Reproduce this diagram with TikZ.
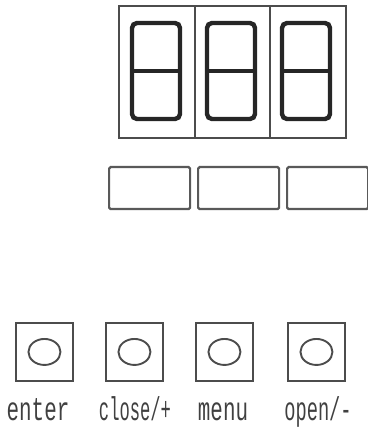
\documentclass[tikz,border=0pt]{standalone}
\usepackage{fontspec}
\newfontfamily\lblfont{Liberation Mono}
\tikzset{
  ln/.style={draw=black!70, line width=1.9pt},
  cell/.style={ln, minimum width=76pt, minimum height=132pt, inner sep=0pt, anchor=north west},
  seg/.style={draw=black!85, line width=4.4pt, rounded corners=5pt},
  slot/.style={draw=black!65, line width=2.2pt, rounded corners=1.5pt, minimum width=81pt, minimum height=42pt, inner sep=0pt, anchor=north west},
  btn/.style={ln, minimum width=57pt, minimum height=58pt, inner sep=0pt, anchor=north west},
  lamp/.style={ln},
  lbl/.style={text=black!75, font=\lblfont\fontsize{22}{22}\selectfont, inner sep=0pt, anchor=base}
}
\begin{document}
\begin{tikzpicture}[x=1pt,y=-1pt]
\useasboundingbox (0,0) rectangle (367,427);
% display cells
\node[cell] (c1) at (118,5) {};
\node[cell] (c2) at (193.5,5) {};
\node[cell] (c3) at (269,5) {};
% digits
\foreach \x in {132,207,282}{
  \draw[seg] (\x,23) rectangle (\x+48,119);
  \draw[seg] (\x,71) -- (\x+48,71);
}
% slots
\node[slot] (s1) at (108,166) {};
\node[slot] (s2) at (197,166) {};
\node[slot] (s3) at (286,166) {};
% buttons
\node[btn] (b1) at (15,322) {};
\node[btn] (b2) at (105,322) {};
\node[btn] (b3) at (195,322) {};
\node[btn] (b4) at (287,322) {};
\foreach \b in {b1,b2,b3,b4}{
  \draw[lamp] (\b.center) ellipse [x radius=16, y radius=13];
}
% labels
\node[lbl] (t1) at (38,420) {\scalebox{0.95}[1.5]{enter}};
\node[lbl] (t2) at (135,420) {\scalebox{0.78}[1.5]{close/+}};
\node[lbl] (t3) at (223,420) {\scalebox{0.95}[1.5]{menu}};
\node[lbl] (t4) at (318,420) {\scalebox{0.85}[1.5]{open/-}};
\end{tikzpicture}
\end{document}
